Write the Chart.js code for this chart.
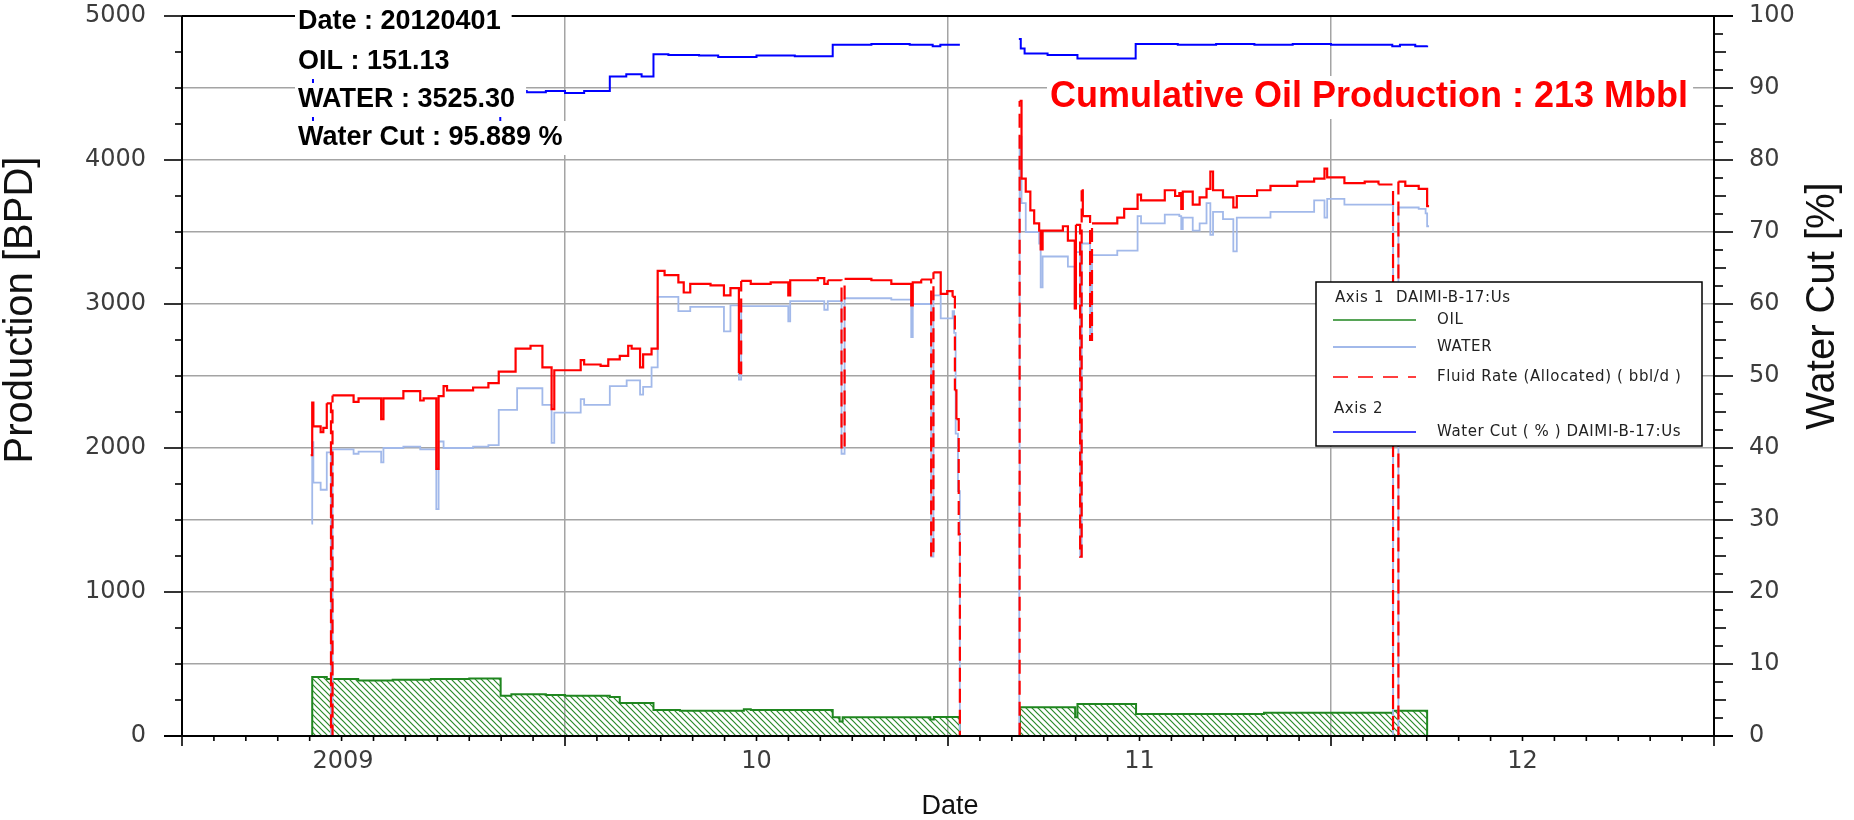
<!DOCTYPE html>
<html>
<head>
<meta charset="utf-8">
<title>DAIMI-B-17:Us production</title>
<script src="https://cdn.jsdelivr.net/npm/chart.js@4.4.1/dist/chart.umd.min.js"></script>
<style>
  html, body { margin: 0; padding: 0; background: #fff; overflow: hidden; }
  canvas { display: block; }
</style>
</head>
<body>
<canvas id="prod" width="1854" height="820"></canvas>
<script>
// ---- well data (dates as decimal years; each value holds until the next date) ----
const fluidT = [2008.836,2008.840,2008.843,2008.862,2008.869,2008.878,2008.889,2008.893,2008.948,2008.961,2009.020,2009.026,2009.078,2009.122,2009.131,2009.164,2009.170,2009.183,2009.192,2009.260,2009.300,2009.327,2009.371,2009.410,2009.441,2009.465,2009.472,2009.541,2009.550,2009.593,2009.613,2009.643,2009.665,2009.674,2009.696,2009.704,2009.726,2009.742,2009.760,2009.796,2009.810,2009.827,2009.880,2009.915,2009.932,2009.954,2009.960,2009.985,2010.037,2010.083,2010.088,2010.160,2010.177,2010.186,2010.222,2010.230,2010.300,2010.352,2010.404,2010.408,2010.430,2010.456,2010.462,2010.481,2010.498,2010.512,2010.518,2010.522,2010.528,2010.531,2010.600,2010.685,2010.687,2010.692,2010.703,2010.715,2010.725,2010.738,2010.742,2010.747,2010.800,2010.813,2010.831,2010.834,2010.845,2010.849,2010.852,2010.871,2010.876,2010.942,2010.960,2010.995,2011.004,2011.066,2011.093,2011.104,2011.109,2011.113,2011.139,2011.157,2011.175,2011.185,2011.192,2011.218,2011.245,2011.254,2011.307,2011.342,2011.412,2011.456,2011.483,2011.490,2011.535,2011.588,2011.624,2011.662,2011.676,2011.694,2011.729,2011.751,2011.756];
const fluidV = [1950,2315,2150,2110,2140,2310,0,2365,2320,2345,2200,2345,2395,2330,2345,1855,2360,2430,2400,2420,2450,2530,2690,2710,2560,2270,2540,2610,2580,2570,2615,2640,2710,2690,2560,2650,2690,3230,3200,3150,3080,3140,3130,3060,3110,2520,3160,3140,3150,3060,3165,3180,3140,3165,1990,3175,3165,3140,2990,3150,3170,1245,3220,3070,3090,3050,2400,2200,1400,0,null,0,4410,3870,3780,3650,3560,3510,3380,3510,3540,3440,2970,3550,1245,3790,3610,2750,3560,3600,3660,3760,3720,3790,3750,3770,3660,3780,3690,3740,3800,3920,3790,3740,3670,3750,3790,3820,3850,3870,3940,3880,3840,3850,3830,0,3850,3820,3800,3680,3680];

const waterT = [2008.838,2008.840,2008.843,2008.862,2008.878,2008.889,2008.893,2008.948,2008.961,2009.020,2009.026,2009.078,2009.122,2009.164,2009.170,2009.183,2009.260,2009.300,2009.327,2009.375,2009.441,2009.465,2009.472,2009.541,2009.550,2009.617,2009.661,2009.696,2009.704,2009.726,2009.742,2009.796,2009.827,2009.915,2009.932,2009.954,2009.960,2010.083,2010.088,2010.177,2010.186,2010.222,2010.230,2010.352,2010.404,2010.408,2010.456,2010.462,2010.481,2010.512,2010.516,2010.520,2010.526,2010.531,2010.600,2010.685,2010.686,2010.687,2010.692,2010.703,2010.738,2010.742,2010.747,2010.813,2010.831,2010.834,2010.845,2010.849,2010.871,2010.876,2010.942,2010.995,2011.004,2011.066,2011.104,2011.109,2011.113,2011.139,2011.157,2011.175,2011.185,2011.192,2011.218,2011.245,2011.254,2011.342,2011.456,2011.483,2011.490,2011.535,2011.662,2011.676,2011.729,2011.747,2011.751,2011.756];
const waterV = [1475,2040,1760,1710,1970,0,1990,1960,1975,1900,2000,2010,1990,1575,2045,2000,2010,2020,2265,2415,2300,2035,2245,2340,2300,2430,2470,2370,2425,2560,3050,2950,2980,2810,2990,2475,2985,2880,3020,2960,3020,1960,3040,3030,2770,3000,1245,3060,2900,2950,2800,2100,1700,0,null,0,1700,4160,3700,3500,3420,3115,3330,3260,2970,3360,1245,3420,2750,3340,3370,3610,3560,3620,3610,3520,3600,3510,3560,3700,3480,3640,3590,3365,3600,3640,3720,3600,3730,3690,0,3670,3660,3630,3540,3540];

const oilT = [2008.836,2008.840,2008.878,2008.960,2009.050,2009.150,2009.250,2009.332,2009.360,2009.450,2009.500,2009.617,2009.643,2009.731,2009.800,2009.967,2009.985,2010.199,2010.217,2010.225,2010.454,2010.463,2010.531,2010.600,2010.686,2010.688,2010.832,2010.838,2010.991,2011.325,2011.662,2011.751];
const oilV = [0,410,395,385,390,395,400,280,290,285,280,270,230,180,175,185,180,130,100,130,115,132,0,null,0,200,130,222,153,162,176,0];

const wcutT = [2008.838,2008.842,2009.000,2009.150,2009.250,2009.331,2009.400,2009.450,2009.500,2009.550,2009.617,2009.660,2009.700,2009.731,2009.770,2009.850,2009.900,2010.000,2010.100,2010.199,2010.300,2010.400,2010.460,2010.480,2010.531,2010.600,2010.685,2010.690,2010.700,2010.760,2010.838,2010.990,2011.100,2011.200,2011.300,2011.400,2011.500,2011.660,2011.680,2011.720,2011.751];
const wcutV = [93,84,84.3,84.0,84.5,89.6,89.4,89.6,89.3,89.6,91.6,91.9,91.6,94.7,94.6,94.5,94.3,94.5,94.4,96.0,96.1,96.0,95.8,96.0,96.0,null,96.8,95.5,94.8,94.6,94.1,96.1,96.0,96.1,96.0,96.1,96.0,95.8,96.0,95.8,95.9];

// ---- axes and annotation text ----
const dateMin = 2008.5, dateMax = 2012.5;
const yearTicks = [2009, 2010, 2011, 2012];
const yearLabels = ['2009', '10', '11', '12'];
const infoLines = ['Date : 20120401', 'OIL : 151.13', 'WATER : 3525.30', 'Water Cut : 95.889 %'];
const cumulativeText = 'Cumulative Oil Production : 213 Mbbl';
const legendHeader1 = ['Axis 1', 'DAIMI-B-17:Us'];
const legendHeader2 = 'Axis 2';
const legendNames = ['OIL', 'WATER', 'Fluid Rate (Allocated) ( bbl/d )', 'Water Cut ( % ) DAIMI-B-17:Us'];

const GRID = '#a4a4a4';
const C_OIL = '#1f861f', C_WATER = '#a2b9ea', C_FLUID = '#ff0000', C_WCUT = '#0000ff';
const TICK_FONT = '24px "DejaVu Sans", Verdana, sans-serif';

const pts = (t, v) => t.map((x, i) => ({ x, y: v[i] }));

function hatchPattern() {
  const s = 6;
  const c = document.createElement('canvas');
  c.width = s; c.height = s;
  const g = c.getContext('2d');
  g.strokeStyle = '#2a8a2a';
  g.lineWidth = 1.2;
  g.beginPath();
  g.moveTo(-1, -1); g.lineTo(s + 1, s + 1);
  g.moveTo(-1, s - 1); g.lineTo(1, s + 1);
  g.moveTo(s - 1, -1); g.lineTo(s + 1, 1);
  g.stroke();
  return g.createPattern(c, 'repeat');
}

const isHalfYear = v => Math.abs((v % 1) - 0.5) < 1e-6 && v > dateMin + 0.1 && v < dateMax - 0.1;

function line(ctx, x1, y1, x2, y2) {
  ctx.beginPath(); ctx.moveTo(x1, y1); ctx.lineTo(x2, y2); ctx.stroke();
}

// vertical axes keep a fixed width and add no extra padding above/below the plot
const fixWidth = w => s => { s.width = w; s.paddingTop = 0; s.paddingBottom = 0; };

const decor = {
  id: 'decor',
  beforeDraw(chart) {
    const ctx = chart.ctx;
    ctx.save();
    ctx.fillStyle = '#fff';
    ctx.fillRect(0, 0, chart.width, chart.height);
    ctx.restore();
  },
  afterDatasetsDraw(chart) {
    const ctx = chart.ctx;
    const { left, right, top, bottom } = chart.chartArea;
    const sx = chart.scales.x, sy = chart.scales.y, sy2 = chart.scales.y2;
    ctx.save();

    // frame and tick marks
    ctx.strokeStyle = '#000';
    ctx.lineWidth = 2;
    line(ctx, left, top, right + 19, top);
    line(ctx, left, top, left, bottom);
    line(ctx, left - 18, bottom, right + 19, bottom);
    line(ctx, right, top, right, bottom);
    ctx.lineWidth = 1.6;
    for (let v = 0; v <= 5000; v += 250) {
      const y = sy.getPixelForValue(v);
      line(ctx, left - (v % 1000 === 0 ? 18 : 7), y, left, y);
    }
    for (let v = 0; v <= 100; v += 2.5) {
      const y = sy2.getPixelForValue(v);
      const len = v % 10 === 0 ? 19 : (v % 5 === 0 ? 12 : 9);
      line(ctx, right, y, right + len, y);
    }
    for (let k = 0; k <= 48; k++) {
      const x = sx.getPixelForValue(dateMin + k / 12);
      line(ctx, x, bottom, x, bottom + (k % 12 === 0 ? 10 : 5));
    }

    // date labels
    ctx.fillStyle = '#3c3c3c';
    ctx.font = TICK_FONT;
    ctx.textBaseline = 'middle';
    yearTicks.forEach((t, i) => {
      ctx.textAlign = i === 0 ? 'right' : 'center';
      ctx.fillText(yearLabels[i], sx.getPixelForValue(t), 762);
    });

    // axis titles
    ctx.fillStyle = '#111';
    ctx.textAlign = 'center';
    ctx.font = '27px "Liberation Sans", Arial, sans-serif';
    ctx.fillText('Date', 950, 807);
    ctx.font = '40px "Liberation Sans", Arial, sans-serif';
    ctx.save();
    ctx.translate(21, 310); ctx.rotate(-Math.PI / 2);
    ctx.fillText('Production [BPD]', 0, 0);
    ctx.restore();
    ctx.save();
    ctx.translate(1823, 306); ctx.rotate(-Math.PI / 2);
    ctx.fillText('Water Cut [%]', 0, 0);
    ctx.restore();

    // readout box
    ctx.textAlign = 'left';
    ctx.font = 'bold 27px "Liberation Sans", Arial, sans-serif';
    const infoY = [22, 62, 100, 138];
    infoLines.forEach((s, i) => {
      const w = ctx.measureText(s).width;
      ctx.fillStyle = '#fff';
      ctx.fillRect(295, infoY[i] - 17, w + 14, 34);
      ctx.fillStyle = '#000';
      ctx.fillText(s, 298, infoY[i]);
    });

    // cumulative production note
    ctx.font = 'bold 36px "Liberation Sans", Arial, sans-serif';
    const cw = ctx.measureText(cumulativeText).width;
    ctx.fillStyle = '#fff';
    ctx.fillRect(1047, 76, cw + 8, 43);
    ctx.fillStyle = '#ff0000';
    ctx.fillText(cumulativeText, 1050, 97);

    // legend
    const lx = 1316, ly = 282, lw = 386, lh = 164;
    ctx.fillStyle = '#fff';
    ctx.fillRect(lx, ly, lw, lh);
    ctx.strokeStyle = '#000';
    ctx.lineWidth = 1.5;
    ctx.strokeRect(lx, ly, lw, lh);
    ctx.font = '15px "DejaVu Sans", Verdana, sans-serif';
    ctx.letterSpacing = '0.6px';
    ctx.fillStyle = '#222';
    ctx.fillText(legendHeader1[0], 1335, 298);
    ctx.fillText(legendHeader1[1], 1396, 298);
    ctx.fillText(legendHeader2, 1334, 409);
    const rows = [320, 347, 377, 432];
    const colors = [C_OIL, C_WATER, C_FLUID, C_WCUT];
    rows.forEach((y, i) => {
      ctx.strokeStyle = colors[i];
      ctx.lineWidth = i === 1 ? 2 : 1.6;
      ctx.setLineDash(i === 2 ? [15, 10] : []);
      line(ctx, 1333, y, 1416, y);
      ctx.setLineDash([]);
      ctx.fillStyle = '#222';
      ctx.fillText(legendNames[i], 1437, y);
    });

    ctx.restore();
  }
};

Chart.defaults.font.family = '"DejaVu Sans", Verdana, sans-serif';

new Chart(document.getElementById('prod'), {
  type: 'line',
  data: {
    datasets: [
      {
        label: 'Water Cut ( % ) DAIMI-B-17:Us', data: pts(wcutT, wcutV), yAxisID: 'y2',
        borderColor: C_WCUT, borderWidth: 2, stepped: true, pointRadius: 0, fill: false
      },
      {
        label: 'Fluid Rate (Allocated) ( bbl/d )', data: pts(fluidT, fluidV), yAxisID: 'y',
        borderColor: C_FLUID, borderWidth: 2.2, stepped: true, pointRadius: 0, fill: false,
        segment: { borderDash: s => Math.abs(s.p1.parsed.y - s.p0.parsed.y) > 600 ? [14, 7] : undefined }
      },
      {
        label: 'WATER', data: pts(waterT, waterV), yAxisID: 'y',
        borderColor: C_WATER, borderWidth: 1.8, stepped: true, pointRadius: 0, fill: false
      },
      {
        label: 'OIL', data: pts(oilT, oilV), yAxisID: 'y',
        borderColor: C_OIL, borderWidth: 2, stepped: true, pointRadius: 0,
        backgroundColor: hatchPattern(), fill: 'origin'
      }
    ]
  },
  options: {
    responsive: false,
    animation: false,
    devicePixelRatio: 1,
    spanGaps: false,
    layout: { padding: { top: 16, left: 0, right: 0, bottom: 0 } },
    plugins: { legend: { display: false }, tooltip: { enabled: false } },
    scales: {
      x: {
        type: 'linear', min: dateMin, max: dateMax,
        afterFit(s) { s.height = 84; s.paddingLeft = 0; s.paddingRight = 0; },
        ticks: { display: false, stepSize: 0.5 },
        grid: { drawTicks: false, lineWidth: 1.5, color: c => (c.tick && isHalfYear(c.tick.value)) ? GRID : 'rgba(0,0,0,0)' },
        border: { display: false }
      },
      y: {
        position: 'left', min: 0, max: 5000,
        afterFit: fixWidth(182),
        ticks: {
          stepSize: 500, autoSkip: false, padding: 36, color: '#3c3c3c',
          font: { family: '"DejaVu Sans", Verdana, sans-serif', size: 24 },
          callback: v => (v % 1000 === 0 ? String(v) : '')
        },
        grid: { drawTicks: false, lineWidth: 1.5, color: c => (c.tick && c.tick.value > 0 && c.tick.value < 5000) ? GRID : 'rgba(0,0,0,0)' },
        border: { display: false }
      },
      y2: {
        position: 'right', min: 0, max: 100,
        afterFit: fixWidth(140),
        ticks: {
          stepSize: 10, autoSkip: false, padding: 35, color: '#3c3c3c',
          font: { family: '"DejaVu Sans", Verdana, sans-serif', size: 24 }
        },
        grid: { drawOnChartArea: false, drawTicks: false },
        border: { display: false }
      }
    }
  },
  plugins: [decor]
});
</script>
</body>
</html>
